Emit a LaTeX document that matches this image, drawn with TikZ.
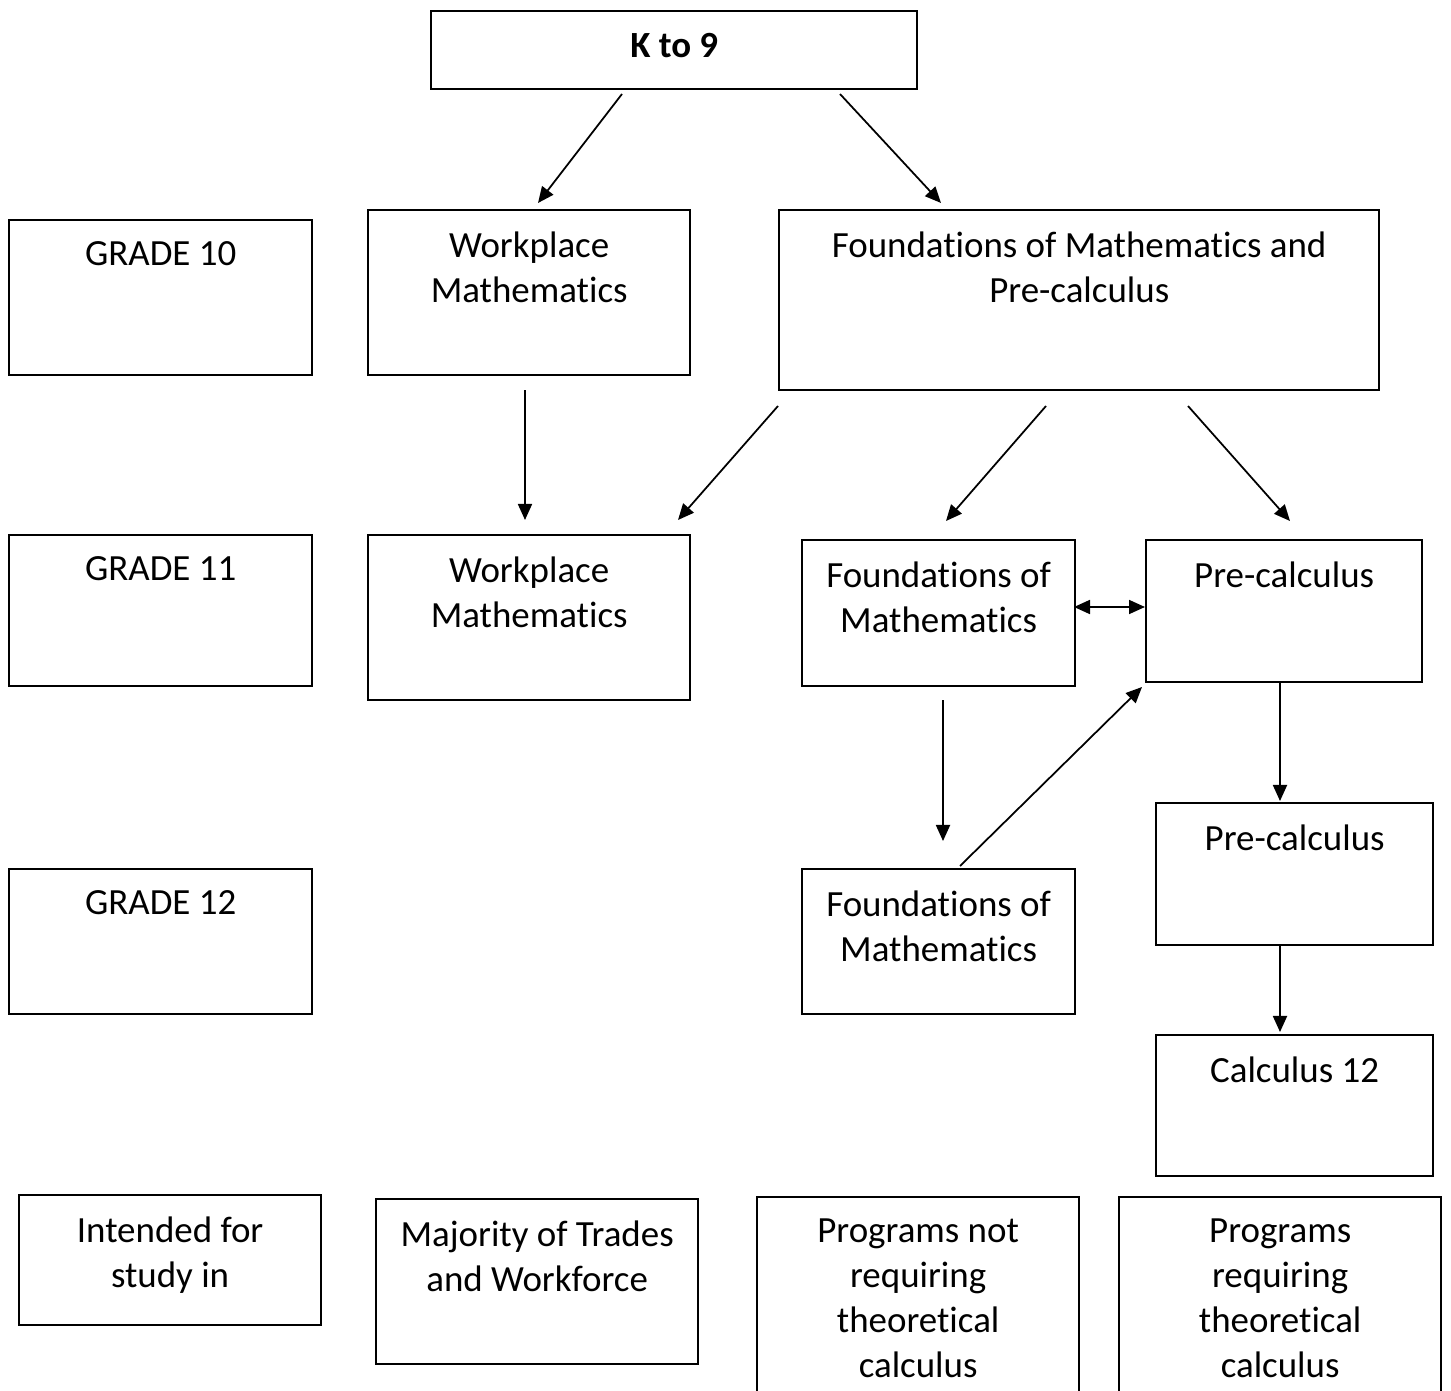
\documentclass[tikz,border=0pt]{standalone}
\usepackage{fontspec}
\setmainfont{Carlito}[RawFeature={-liga;-clig;-dlig;-calt}]
\usetikzlibrary{arrows.meta}

\tikzset{
  box/.style={draw=black, line width=0.6pt, anchor=north west, inner sep=0pt},
  lbl/.style={anchor=north, align=center, inner sep=0pt, yshift=-0.22cm,
    font=\fontsize{10.5}{12.8}\selectfont},
  arr/.style={line width=0.5pt, -{Triangle[length=0.16cm,width=0.14cm]}},
  darr/.style={line width=0.5pt, {Triangle[length=0.16cm,width=0.14cm]}-{Triangle[length=0.16cm,width=0.14cm]}}
}

\begin{document}
\begin{tikzpicture}[x=0.01cm, y=-0.01cm]
  \useasboundingbox (0,0) rectangle (1451,1391);
  \clip (0,0) rectangle (1451,1391);

  % Top
  \node[box, minimum width=4.86cm, minimum height=0.78cm,
    label={[lbl, yshift=-0.01cm]north:\textbf{K to 9}}] (k9) at (430,10) {};

  % Grade labels
  \node[box, minimum width=3.03cm, minimum height=1.55cm,
    label={[lbl]north:GRADE 10}] (g10) at (8,219) {};
  \node[box, minimum width=3.03cm, minimum height=1.51cm,
    label={[lbl]north:GRADE 11}] (g11) at (8,534) {};
  \node[box, minimum width=3.03cm, minimum height=1.45cm,
    label={[lbl]north:GRADE 12}] (g12) at (8,868) {};
  \node[box, minimum width=3.02cm, minimum height=1.30cm,
    label={[lbl]north:Intended for\\study in}] (intended) at (18,1194) {};

  % Grade 10
  \node[box, minimum width=3.22cm, minimum height=1.65cm,
    label={[lbl]north:Workplace\\Mathematics}] (wp10) at (367,209) {};
  \node[box, minimum width=6.00cm, minimum height=1.80cm,
    label={[lbl]north:Foundations of Mathematics and\\Pre-calculus}] (fpc10) at (778,209) {};

  % Grade 11
  \node[box, minimum width=3.22cm, minimum height=1.65cm,
    label={[lbl]north:Workplace\\Mathematics}] (wp11) at (367,534) {};
  \node[box, minimum width=2.73cm, minimum height=1.46cm,
    label={[lbl]north:Foundations of\\Mathematics}] (fm11) at (801,539) {};
  \node[box, minimum width=2.76cm, minimum height=1.42cm,
    label={[lbl]north:Pre-calculus}] (pc11) at (1145,539) {};

  % Grade 12
  \node[box, minimum width=2.73cm, minimum height=1.45cm,
    label={[lbl]north:Foundations of\\Mathematics}] (fm12) at (801,868) {};
  \node[box, minimum width=2.77cm, minimum height=1.42cm,
    label={[lbl]north:Pre-calculus}] (pc12) at (1155,802) {};
  \node[box, minimum width=2.77cm, minimum height=1.41cm,
    label={[lbl]north:Calculus 12}] (calc12) at (1155,1034) {};

  % Intended for
  \node[box, minimum width=3.22cm, minimum height=1.65cm,
    label={[lbl]north:Majority of Trades\\and Workforce}] (trades) at (375,1198) {};
  \node[box, minimum width=3.22cm, minimum height=2.10cm,
    label={[lbl]north:Programs not\\requiring\\theoretical\\calculus}] (notcalc) at (756,1196) {};
  \node[box, minimum width=3.22cm, minimum height=2.10cm,
    label={[lbl]north:Programs\\requiring\\theoretical\\calculus}] (reqcalc) at (1118,1196) {};

  % Arrow ends
  \coordinate (k9-l) at (622,94);
  \coordinate (wp10-t) at (538,203);
  \coordinate (k9-r) at (840,94);
  \coordinate (fpc10-t) at (941,203);
  \coordinate (wp10-b) at (525,390);
  \coordinate (wp11-t) at (525,520);
  \coordinate (fpc10-l) at (778,406);
  \coordinate (wp11-tr) at (678,520);
  \coordinate (fpc10-m) at (1046,406);
  \coordinate (fm11-t) at (946,521);
  \coordinate (fpc10-r) at (1188,406);
  \coordinate (pc11-t) at (1290,521);
  \coordinate (fm11-e) at (1074,607);
  \coordinate (pc11-w) at (1145,607);
  \coordinate (fm11-b) at (943,700);
  \coordinate (fm12-t) at (943,841);
  \coordinate (fm12-tr) at (960,866);
  \coordinate (pc11-sw) at (1142,687);
  \coordinate (pc11-b) at (1280,683);
  \coordinate (pc12-t) at (1280,801);
  \coordinate (pc12-b) at (1280,945);
  \coordinate (calc12-t) at (1280,1032);

  % Connectors
  \draw[arr] (k9-l) -- (wp10-t);
  \draw[arr] (k9-r) -- (fpc10-t);
  \draw[arr] (wp10-b) -- (wp11-t);
  \draw[arr] (fpc10-l) -- (wp11-tr);
  \draw[arr] (fpc10-m) -- (fm11-t);
  \draw[arr] (fpc10-r) -- (pc11-t);
  \draw[darr] (fm11-e) -- (pc11-w);
  \draw[arr] (fm11-b) -- (fm12-t);
  \draw[arr] (fm12-tr) -- (pc11-sw);
  \draw[arr] (pc11-b) -- (pc12-t);
  \draw[arr] (pc12-b) -- (calc12-t);
\end{tikzpicture}
\end{document}
